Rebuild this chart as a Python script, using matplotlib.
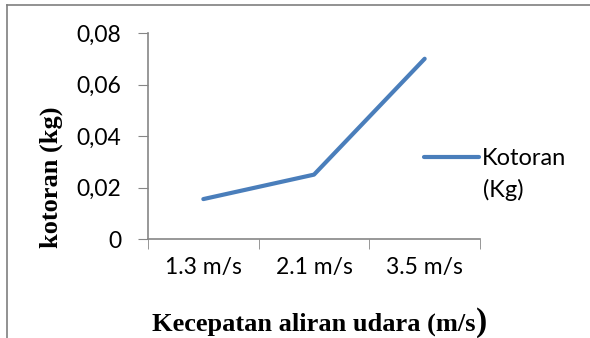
import matplotlib.pyplot as plt

categories = ['1.3 m/s', '2.1 m/s', '3.5 m/s']
kotoran = [0.0155, 0.025, 0.070]
yticks = [0, 0.02, 0.04, 0.06, 0.08]
ytick_labels = ['0', '0,02', '0,04', '0,06', '0,08']

W, H = 590, 338
fig = plt.figure(figsize=(W / 100, H / 100), dpi=100)

# outer frame (top + left only visible)
fig.add_artist(plt.Line2D([7 / W, 1], [1 - 5 / H, 1 - 5 / H], color='#7f7f7f', lw=1.2))
fig.add_artist(plt.Line2D([7 / W, 7 / W], [0, 1 - 5 / H], color='#7f7f7f', lw=1.2))

ax = fig.add_axes([148 / W, 1 - 239 / H, (480 - 148) / W, (239 - 33) / H])

x = range(len(categories))
line, = ax.plot(x, kotoran, color='#4a7ebb', lw=3, solid_capstyle='round')

ax.set_xlim(-0.5, len(categories) - 0.5)
ax.set_ylim(0, 0.08)
ax.set_yticks(yticks)
ax.set_yticklabels(ytick_labels)
ax.set_xticks(x)
ax.set_xticklabels(categories)
ax.set_xticks([-0.5, 0.5, 1.5, 2.5], minor=True)
ax.tick_params(axis='x', which='major', length=0, pad=13)
ax.tick_params(axis='x', which='minor', length=7, color='#868686', direction='out')
ax.tick_params(axis='y', length=7, color='#868686', pad=12)

for s in ['top', 'right']:
    ax.spines[s].set_visible(False)
for s in ['left', 'bottom']:
    ax.spines[s].set_color('#868686')
    ax.spines[s].set_linewidth(1.2)

for lab in ax.get_xticklabels() + ax.get_yticklabels():
    lab.set_fontfamily('Lato')
    lab.set_fontsize(16.5)

fig.text(51 / W, 1 - 177 / H, 'kotoran (kg)', rotation=90, ha='center', va='center',
         fontfamily='Liberation Serif', fontweight='bold', fontsize=19)
fig.text(152 / W, 1 - 331 / H, 'Kecepatan aliran udara (m/s', ha='left', va='baseline',
         fontfamily='Liberation Serif', fontweight='bold', fontsize=19)
fig.text(476 / W, 1 - 331 / H, ')', ha='left', va='baseline',
         fontfamily='Liberation Serif', fontweight='bold', fontsize=24)

# legend: handle aligned with first line of label, second line below
leg = fig.legend([line], ['Kotoran'], loc='upper left',
                 bbox_to_anchor=(403 / W, 1 - 127 / H), frameon=False,
                 handlelength=2.3, handletextpad=0.15,
                 prop={'family': 'Lato', 'size': 17})
fig.text(483 / W, 1 - 197 / H, '(Kg)', ha='left', va='baseline',
         fontfamily='Lato', fontsize=17)

fig.savefig('out.png', dpi=100)
